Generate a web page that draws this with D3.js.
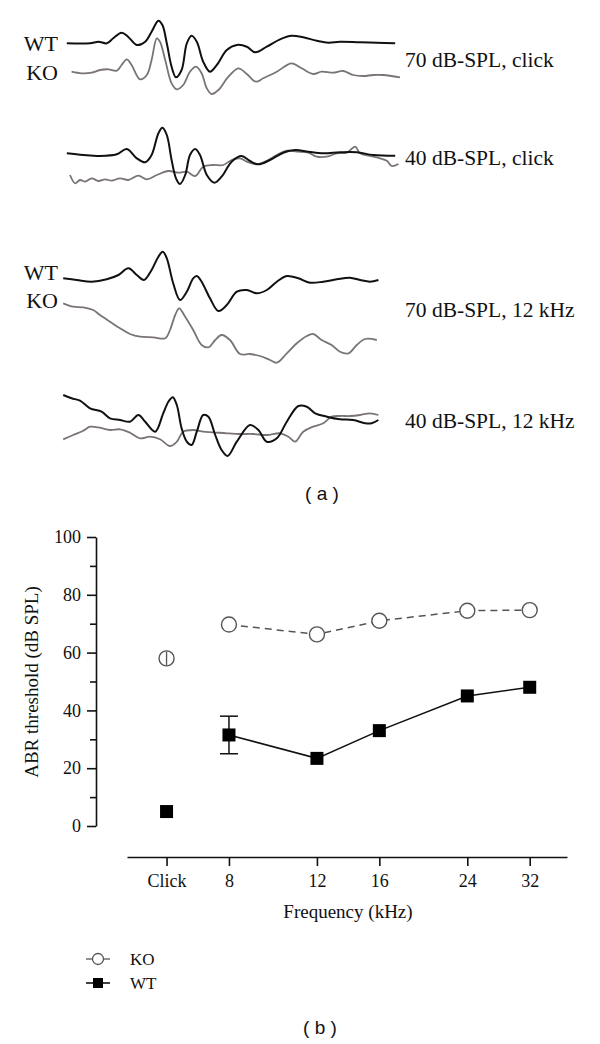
<!DOCTYPE html>
<html>
<head>
<meta charset="utf-8">
<script src="https://cdn.jsdelivr.net/npm/d3@7"></script>
<style>
  html, body { margin: 0; padding: 0; background: #fff; }
  svg { display: block; }
  .serif { font-family: "Liberation Serif", "DejaVu Serif", serif; fill: #111; }
  .sans { font-family: "Liberation Sans", Arial, sans-serif; fill: #111; }
</style>
</head>
<body>
<svg id="chart" width="600" height="1044"></svg>
<script>
// ---------------- DATA ----------------
// (a) ABR waveforms: [time (ms), amplitude (µV, relative to panel baseline)]
const wt70click = [[0.17,0],[0.75,0],[0.96,0.16],[1.17,0],[1.33,0.5],[1.54,1.06],[1.70,0.66],[1.92,-0.17],[2.13,0.16],[2.29,1.16],[2.46,2.26],[2.56,1.83],[2.67,0],[2.79,-2.34],[2.90,-3.4],[3.04,-2.67],[3.17,0],[3.29,0.76],[3.42,0.16],[3.58,-1.84],[3.75,-2.84],[3.92,-2.17],[4.17,-0.67],[4.42,-0.17],[4.67,-0.34],[4.88,-0.9],[5.17,-0.34],[5.50,0.4],[5.79,0.76],[6.08,0.6],[6.42,0.26],[6.71,0.06],[7.00,0.16],[7.50,0.1],[7.92,0.06],[8.38,0]];
const ko70click = [[0.29,-2.84],[0.54,-3.0],[0.79,-2.94],[1.00,-2.67],[1.21,-2.6],[1.42,-2.74],[1.54,-2.17],[1.67,-1.6],[1.79,-2.17],[2.00,-3.6],[2.17,-3.17],[2.29,-1.67],[2.42,0.5],[2.50,0.16],[2.63,-1.67],[2.79,-4.0],[2.92,-4.6],[3.08,-4.17],[3.25,-2.84],[3.40,-2.34],[3.54,-3.0],[3.67,-4.5],[3.79,-5.07],[3.96,-4.67],[4.21,-3.34],[4.46,-2.5],[4.67,-3.07],[4.90,-3.84],[5.08,-3.5],[5.42,-2.84],[5.79,-2.0],[6.04,-2.5],[6.33,-3.07],[6.54,-2.84],[6.83,-2.94],[7.08,-2.77],[7.33,-3.17],[7.58,-3.27],[7.83,-3.17],[8.08,-3.17],[8.50,-3.4]];
const wt40click = [[0.17,0.07],[0.58,-0.1],[1.00,-0.2],[1.42,-0.03],[1.67,0.5],[1.92,-0.43],[2.13,-0.83],[2.29,-0.1],[2.46,2.07],[2.56,2.63],[2.67,1.9],[2.79,-0.6],[2.90,-2.43],[3.00,-3.0],[3.13,-2.1],[3.25,-0.1],[3.38,0.5],[3.50,-0.1],[3.67,-2.1],[3.86,-2.87],[4.04,-2.27],[4.29,-0.77],[4.54,-0.2],[4.75,-0.7],[4.96,-1.03],[5.25,-0.6],[5.58,0.13],[5.88,0.4],[6.21,0.23],[6.58,0.07],[7.00,0.17],[7.42,0.17],[7.83,-0.1],[8.38,-0.17]];
const ko40click = [[0.25,-2.1],[0.38,-2.93],[0.50,-2.6],[0.63,-2.77],[0.79,-2.43],[0.96,-2.7],[1.13,-2.53],[1.29,-2.67],[1.50,-2.43],[1.71,-2.6],[1.96,-2.17],[2.17,-2.53],[2.42,-2.1],[2.71,-1.7],[2.96,-1.87],[3.17,-1.77],[3.38,-2.2],[3.58,-1.27],[3.83,-1.1],[4.08,-1.1],[4.29,-0.6],[4.50,-0.43],[4.67,-0.77],[4.92,-1.03],[5.17,-0.67],[5.42,-0.1],[5.67,0.33],[5.92,0.23],[6.21,0.13],[6.42,-0.27],[6.67,-0.27],[6.92,0.07],[7.17,0.13],[7.38,0.73],[7.50,0.07],[7.75,-0.2],[8.00,-0.43],[8.17,-0.67],[8.29,-1.2],[8.46,-1.0]];
const wt70k12 = [[0.08,0.07],[0.42,-0.1],[0.79,-0.27],[1.17,-0.03],[1.46,0.4],[1.71,1.07],[1.92,0.4],[2.10,-0.1],[2.29,0.9],[2.46,2.23],[2.57,2.73],[2.67,2.07],[2.83,-0.43],[3.00,-2.1],[3.17,-1.27],[3.33,0.07],[3.42,0.3],[3.54,-0.27],[3.75,-1.93],[3.96,-3.2],[4.17,-2.6],[4.42,-1.27],[4.67,-1.1],[4.92,-1.43],[5.17,-1.1],[5.42,-0.27],[5.67,0.3],[5.96,0.07],[6.25,-0.37],[6.58,-0.27],[6.92,-0.03],[7.25,0.13],[7.50,-0.1],[7.75,-0.27],[7.96,-0.1]];
const ko70k12 = [[0.08,-2.43],[0.33,-2.77],[0.58,-2.83],[0.83,-3.1],[1.00,-3.6],[1.25,-4.27],[1.50,-4.93],[1.75,-5.5],[2.00,-5.77],[2.33,-5.83],[2.63,-5.93],[2.75,-5.1],[2.88,-3.6],[2.98,-2.93],[3.13,-3.77],[3.33,-5.1],[3.54,-6.6],[3.71,-6.83],[3.88,-6.1],[4.04,-5.6],[4.25,-6.1],[4.50,-7.5],[4.75,-7.5],[5.00,-7.7],[5.25,-8.1],[5.42,-8.37],[5.67,-7.43],[5.92,-6.43],[6.17,-5.7],[6.33,-5.5],[6.54,-6.1],[6.79,-6.6],[7.00,-7.27],[7.21,-7.43],[7.42,-6.6],[7.63,-6.0],[7.92,-6.1]];
const wt40k12 = [[0.08,2.5],[0.29,2.17],[0.50,1.93],[0.75,1.17],[1.04,0.83],[1.25,0.17],[1.50,0],[1.75,-0.17],[1.96,0.5],[2.13,-0.17],[2.38,-1.17],[2.58,0.67],[2.71,1.83],[2.82,2.27],[2.92,1.5],[3.04,-0.83],[3.17,-2.17],[3.29,-2.5],[3.42,-1.17],[3.58,0.5],[3.71,0.33],[3.88,-1.5],[4.04,-3.0],[4.19,-3.6],[4.42,-2.17],[4.75,-0.5],[4.96,-1.0],[5.17,-2.17],[5.42,-1.83],[5.67,-0.17],[5.96,1.4],[6.17,1.33],[6.38,0.67],[6.67,0.33],[7.00,0.07],[7.33,0],[7.63,-0.33],[7.79,-0.33],[7.96,0]];
const ko40k12 = [[0.08,-1.93],[0.33,-1.5],[0.58,-1.07],[0.75,-0.67],[1.00,-0.77],[1.25,-1.0],[1.50,-0.93],[1.75,-1.27],[2.00,-1.83],[2.25,-1.67],[2.50,-1.93],[2.75,-2.6],[2.92,-2.17],[3.08,-1.17],[3.33,-1.0],[3.58,-1.17],[3.83,-1.23],[4.17,-1.33],[4.50,-1.4],[4.83,-1.4],[5.17,-1.5],[5.50,-1.33],[5.71,-1.67],[5.88,-2.17],[6.08,-1.17],[6.33,-0.67],[6.58,-0.33],[6.79,0.33],[7.00,0.4],[7.25,0.4],[7.50,0.5],[7.75,0.67],[7.96,0.5]];
const panelLabels = ["70 dB-SPL, click", "40 dB-SPL, click", "70 dB-SPL, 12 kHz", "40 dB-SPL, 12 kHz"];

// (b) thresholds
const categories = ["Click", "8", "12", "16", "24", "32"];
const freqPos = [6, 8, 12, 16, 24, 32];          // kHz (Click drawn at nominal 6)
const koMean = [58, 69.7, 66.3, 71, 74.5, 74.7];
const koErr  = [2.4, 0, 0, 0, 0, 0];
const wtMean = [5, 31.5, 23.4, 33, 45, 48];
const wtErr  = [0, 6.5, 0, 0, 0, 0];
const yMajor = [0, 20, 40, 60, 80, 100];
const yMinor = [10, 30, 50, 70, 90];

// ---------------- DRAW ----------------
const svg = d3.select("#chart");
const KO_GRAY = "#7a7474";

// ---- (a) waveforms ----
const tScale = d3.scaleLinear().domain([0, 8.5]).range([60, 400]);
const panels = [
  { wt: wt70click, ko: ko70click, base: 43.3, label: panelLabels[0], labelY: 67, names: [51, 80] },
  { wt: wt40click, ko: ko40click, base: 154,  label: panelLabels[1], labelY: 165, names: null },
  { wt: wt70k12,   ko: ko70k12,   base: 279,  label: panelLabels[2], labelY: 317, names: [280, 308] },
  { wt: wt40k12,   ko: ko40k12,   base: 420,  label: panelLabels[3], labelY: 428, names: null }
];
panels.forEach(p => {
  const aScale = d3.scaleLinear().domain([-1, 1]).range([p.base + 10, p.base - 10]);
  const line = d3.line().x(d => tScale(d[0])).y(d => aScale(d[1]));
  // KO drawn first; in overlapping panels WT appears on top
  svg.append("path").datum(p.ko)
    .attr("d", line.curve(d3.curveCatmullRom.alpha(0.5)))
    .attr("fill", "none").attr("stroke", KO_GRAY).attr("stroke-width", 1.8)
    .attr("stroke-linejoin", "round");
  svg.append("path").datum(p.wt)
    .attr("d", line.curve(d3.curveCatmullRom.alpha(0.5)))
    .attr("fill", "none").attr("stroke", "#111").attr("stroke-width", 2)
    .attr("stroke-linejoin", "round");
  svg.append("text").attr("class", "serif")
    .attr("x", 405).attr("y", p.labelY)
    .attr("font-size", 21.5).text(p.label);
  if (p.names) {
    svg.append("text").attr("class", "serif").attr("text-anchor", "end")
      .attr("x", 58).attr("y", p.names[0]).attr("font-size", 22).text("WT");
    svg.append("text").attr("class", "serif").attr("text-anchor", "end")
      .attr("x", 58).attr("y", p.names[1]).attr("font-size", 22).text("KO");
  }
});
svg.append("text").attr("class", "sans").attr("text-anchor", "middle")
  .attr("x", 322).attr("y", 500).attr("font-size", 19).attr("xml:space", "preserve")
  .text("( a )");

// ---- (b) thresholds ----
const x = d3.scaleLog().base(2).domain([5, 38]).range([127, 567]);
const y = d3.scaleLinear().domain([0, 100]).range([826, 537]);

// Y axis
const yAxisG = svg.append("g").attr("transform", "translate(96,0)");
yAxisG.call(d3.axisLeft(y).tickValues(yMajor).tickSize(9).tickSizeOuter(0).tickPadding(6));
yAxisG.append("g").call(d3.axisLeft(y).tickValues(yMinor).tickSize(6).tickFormat(""))
  .select(".domain").remove();
yAxisG.selectAll("path, line").attr("stroke", "#111").attr("stroke-width", 1.6);
yAxisG.selectAll("text").attr("class", "serif").attr("font-size", 18).attr("fill", "#111");

// X axis
const xAxisG = svg.append("g").attr("transform", "translate(0,857)");
xAxisG.call(d3.axisBottom(x).tickValues(freqPos)
  .tickFormat((d, i) => categories[i]).tickSize(9).tickSizeOuter(0).tickPadding(8));
xAxisG.selectAll("path, line").attr("stroke", "#111").attr("stroke-width", 1.6);
xAxisG.selectAll("text").attr("class", "serif").attr("font-size", 18).attr("fill", "#111");

svg.append("text").attr("class", "serif").attr("text-anchor", "middle")
  .attr("transform", "translate(38,682) rotate(-90)")
  .attr("font-size", 19).text("ABR threshold (dB SPL)");
svg.append("text").attr("class", "serif").attr("text-anchor", "middle")
  .attr("x", 348).attr("y", 918).attr("font-size", 19).text("Frequency (kHz)");

const koPts = freqPos.map((f, i) => ({ f, v: koMean[i], e: koErr[i], i }));
const wtPts = freqPos.map((f, i) => ({ f, v: wtMean[i], e: wtErr[i], i }));
const connected = d => d.i > 0;   // Click is not joined to the frequency series

// lines
svg.append("path").datum(koPts.filter(connected))
  .attr("d", d3.line().x(d => x(d.f)).y(d => y(d.v)))
  .attr("fill", "none").attr("stroke", "#555").attr("stroke-width", 1.5)
  .attr("stroke-dasharray", "7,5");
svg.append("path").datum(wtPts.filter(connected))
  .attr("d", d3.line().x(d => x(d.f)).y(d => y(d.v)))
  .attr("fill", "none").attr("stroke", "#111").attr("stroke-width", 1.6);

// WT error bars
const cap = 9;
wtPts.filter(d => d.e > 0).forEach(d => {
  const g = svg.append("g").attr("stroke", "#111").attr("stroke-width", 1.5);
  g.append("line").attr("x1", x(d.f)).attr("x2", x(d.f)).attr("y1", y(d.v - d.e)).attr("y2", y(d.v + d.e));
  [d.v - d.e, d.v + d.e].forEach(v => g.append("line")
    .attr("x1", x(d.f) - cap).attr("x2", x(d.f) + cap).attr("y1", y(v)).attr("y2", y(v)));
});

// KO markers
svg.selectAll(".ko").data(koPts).join("circle")
  .attr("cx", d => x(d.f)).attr("cy", d => y(d.v)).attr("r", 7.5)
  .attr("fill", "#fff").attr("stroke", "#555").attr("stroke-width", 1.4);
// KO error bars (inside the circle)
koPts.filter(d => d.e > 0).forEach(d => {
  svg.append("line").attr("x1", x(d.f)).attr("x2", x(d.f))
    .attr("y1", y(d.v - d.e)).attr("y2", y(d.v + d.e))
    .attr("stroke", "#555").attr("stroke-width", 1.3);
});
// WT markers
const sq = 13;
svg.selectAll(".wt").data(wtPts).join("rect")
  .attr("x", d => x(d.f) - sq / 2).attr("y", d => y(d.v) - sq / 2)
  .attr("width", sq).attr("height", sq).attr("fill", "#000");

// Legend
const lg = svg.append("g");
lg.append("line").attr("x1", 86).attr("x2", 110).attr("y1", 959).attr("y2", 959)
  .attr("stroke", "#555").attr("stroke-width", 1.3);
lg.append("circle").attr("cx", 98).attr("cy", 959).attr("r", 5.5)
  .attr("fill", "#fff").attr("stroke", "#555").attr("stroke-width", 1.3);
lg.append("text").attr("class", "serif").attr("x", 130).attr("y", 965).attr("font-size", 17).text("KO");
lg.append("line").attr("x1", 86).attr("x2", 110).attr("y1", 983).attr("y2", 983)
  .attr("stroke", "#111").attr("stroke-width", 1.6);
lg.append("rect").attr("x", 93).attr("y", 978).attr("width", 10).attr("height", 10).attr("fill", "#000");
lg.append("text").attr("class", "serif").attr("x", 130).attr("y", 989).attr("font-size", 17).text("WT");

svg.append("text").attr("class", "sans").attr("text-anchor", "middle")
  .attr("x", 320).attr("y", 1034).attr("font-size", 19).attr("xml:space", "preserve")
  .text("( b )");
</script>
</body>
</html>
